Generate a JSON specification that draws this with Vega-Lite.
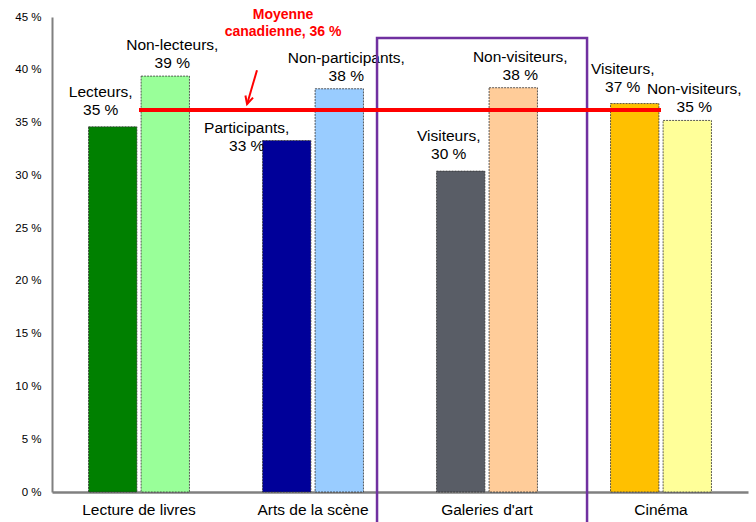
{
  "$schema": "https://vega.github.io/schema/vega-lite/v6.json",
  "autosize": {"type": "none"},
  "width": 696,
  "height": 475,
  "padding": {"left": 52, "top": 17, "right": 8, "bottom": 30},
  "config": {
    "view": {"stroke": null},
    "font": "Liberation Sans",
    "axis": {"labelFont": "Liberation Sans", "labelColor": "#000000", "grid": false, "ticks": false}
  },
  "datasets": {
    "barres": [
      {"categorie": "Lecture de livres", "statut": "oui", "serie": "Lecteurs", "etiquette": "Lecteurs", "pct": 34.6},
      {"categorie": "Lecture de livres", "statut": "non", "serie": "Non-lecteurs", "etiquette": "Non-lecteurs", "pct": 39.4},
      {"categorie": "Arts de la scène", "statut": "oui", "serie": "Participants", "etiquette": "Participants", "pct": 33.3},
      {"categorie": "Arts de la scène", "statut": "non", "serie": "Non-participants", "etiquette": "Non-participants", "pct": 38.2},
      {"categorie": "Galeries d'art", "statut": "oui", "serie": "Visiteurs (galeries)", "etiquette": "Visiteurs", "pct": 30.4},
      {"categorie": "Galeries d'art", "statut": "non", "serie": "Non-visiteurs (galeries)", "etiquette": "Non-visiteurs", "pct": 38.3},
      {"categorie": "Cinéma", "statut": "oui", "serie": "Visiteurs (cinéma)", "etiquette": "Visiteurs", "pct": 36.8},
      {"categorie": "Cinéma", "statut": "non", "serie": "Non-visiteurs (cinéma)", "etiquette": "Non-visiteurs", "pct": 35.2}
    ],
    "moyenne": [
      {"libelle": "Moyenne canadienne", "pct": 36.2}
    ]
  },
  "resolve": {"scale": {"x": "independent"}},
  "layer": [
    {
      "data": {"name": "barres"},
      "transform": [{"calculate": "datum.etiquette + ',\\n' + format(datum.pct, '.0f') + ' %'", "as": "texte"}],
      "encoding": {
        "x": {
          "field": "categorie", "type": "nominal", "sort": null,
          "scale": {"paddingInner": 0.42, "paddingOuter": 0.21},
          "axis": {"title": null, "labelAngle": 0, "labelFontSize": 15.5, "labelPadding": 10, "domainColor": "#808080", "domainWidth": 2.5}
        },
        "xOffset": {"field": "statut", "type": "nominal", "sort": ["oui", "non"], "scale": {"paddingInner": 0.08, "paddingOuter": 0}},
        "y": {
          "field": "pct", "type": "quantitative",
          "scale": {"domain": [0, 45], "nice": false},
          "axis": {"title": null, "values": [0, 5, 10, 15, 20, 25, 30, 35, 40, 45], "labelExpr": "datum.value + ' %'", "labelFontSize": 11.5, "labelPadding": 11, "domainColor": "#808080", "domainWidth": 2}
        }
      },
      "layer": [
        {
          "mark": {"type": "bar", "stroke": "#333333", "strokeWidth": 0.8, "strokeDash": [2, 1]},
          "encoding": {
            "color": {
              "field": "serie", "type": "nominal", "legend": null,
              "scale": {
                "domain": ["Lecteurs", "Non-lecteurs", "Participants", "Non-participants", "Visiteurs (galeries)", "Non-visiteurs (galeries)", "Visiteurs (cinéma)", "Non-visiteurs (cinéma)"],
                "range": ["#008000", "#99FF99", "#000099", "#99CCFF", "#595D66", "#FFCC99", "#FFC000", "#FFFF99"]
              }
            }
          }
        },
        {
          "transform": [{"filter": "datum.statut == 'oui' && datum.serie != 'Participants'"}],
          "mark": {"type": "text", "baseline": "bottom", "align": "center", "dx": -12, "dy": -27, "fontSize": 15.5, "lineHeight": 18, "lineBreak": "\n", "color": "#000000"},
          "encoding": {"text": {"field": "texte", "type": "nominal"}}
        },
        {
          "transform": [{"filter": "datum.serie == 'Participants'"}],
          "mark": {"type": "text", "baseline": "bottom", "align": "center", "dx": -40, "dy": -5, "fontSize": 15.5, "lineHeight": 18, "lineBreak": "\n", "color": "#000000"},
          "encoding": {"text": {"field": "texte", "type": "nominal"}}
        },
        {
          "transform": [{"filter": "datum.statut == 'non'"}],
          "mark": {"type": "text", "baseline": "bottom", "align": "center", "dx": 7, "dy": -23, "fontSize": 15.5, "lineHeight": 18, "lineBreak": "\n", "color": "#000000"},
          "encoding": {"text": {"field": "texte", "type": "nominal"}}
        }
      ]
    },
    {
      "data": {"name": "moyenne"},
      "layer": [
        {
          "mark": {"type": "rect", "fill": null, "stroke": "#7030A0", "strokeWidth": 2.5},
          "encoding": {
            "x": {"datum": 1.868, "type": "quantitative", "scale": {"domain": [0, 4], "nice": false, "zero": false}, "axis": null},
            "x2": {"datum": 3.075},
            "y": {"datum": 43.0, "type": "quantitative"},
            "y2": {"datum": -4}
          }
        },
        {
          "mark": {"type": "rule", "color": "#FF0000", "strokeWidth": 4},
          "encoding": {
            "x": {"datum": 0.5, "type": "quantitative", "axis": null},
            "x2": {"datum": 3.5},
            "y": {"field": "pct", "type": "quantitative"}
          }
        },
        {
          "mark": {"type": "rule", "color": "#FF0000", "strokeWidth": 2},
          "encoding": {
            "x": {"datum": 1.178, "type": "quantitative", "axis": null},
            "x2": {"datum": 1.121},
            "y": {"datum": 39.96, "type": "quantitative"},
            "y2": {"datum": 36.74}
          }
        },
        {
          "mark": {"type": "point", "shape": "M -0.5 -1 L 0 0 L 0.5 -1", "filled": false, "stroke": "#FF0000", "strokeWidth": 2, "size": 250, "angle": 16, "opacity": 1},
          "encoding": {
            "x": {"datum": 1.121, "type": "quantitative", "axis": null},
            "y": {"datum": 36.74, "type": "quantitative"}
          }
        },
        {
          "transform": [{"calculate": "'Moyenne\\ncanadienne, ' + format(datum.pct, '.0f') + ' %'", "as": "texte"}],
          "mark": {"type": "text", "color": "#FF0000", "fontWeight": "bold", "fontSize": 14, "lineHeight": 17, "lineBreak": "\n", "baseline": "bottom", "align": "center", "dy": 5},
          "encoding": {
            "x": {"datum": 1.328, "type": "quantitative", "axis": null},
            "y": {"datum": 45, "type": "quantitative"},
            "text": {"field": "texte", "type": "nominal"}
          }
        }
      ]
    }
  ]
}
